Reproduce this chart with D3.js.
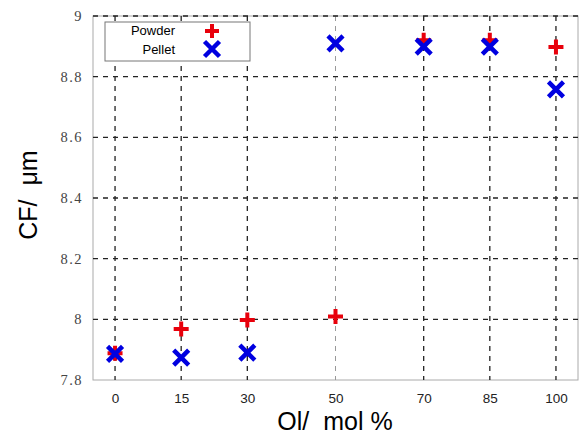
<!DOCTYPE html>
<html>
<head>
<meta charset="utf-8">
<script src="https://d3js.org/d3.v7.min.js"></script>
<style>
  body { margin: 0; background: #fff; }
  svg text { fill: #000; }
</style>
</head>
<body>
<div id="chart"></div>
<script>
// dados
var olMol = [0, 15, 30, 50, 70, 85, 100];
var powder = [7.888, 7.968, 7.998, 8.009, 8.92, 8.92, 8.898];
var pellet = [7.886, 7.874, 7.89, 8.91, 8.899, 8.899, 8.758];
var yTicks = [7.8, 8, 8.2, 8.4, 8.6, 8.8, 9];
var yTickLabels = ["7.8", "8", "8.2", "8.4", "8.6", "8.8", "9"];
var series = ["Powder", "Pellet"];

var largura = 581, altura = 437;
var margin = {top: 16, right: 3, bottom: 57, left: 93};
var w = largura - margin.left - margin.right,
    h = altura - margin.top - margin.bottom;

var svg = d3.select("#chart").append("svg")
  .attr("width", largura).attr("height", altura);
var g = svg.append("g")
  .attr("transform", "translate(" + margin.left + "," + margin.top + ")");

var x = d3.scaleLinear().domain([-5, 105]).range([0, w]);
var y = d3.scaleLinear().domain([7.8, 9]).range([h, 0]);

// moldura
g.append("rect")
  .attr("width", w).attr("height", h)
  .attr("fill", "none").attr("stroke", "#aaa").attr("stroke-width", 1);

// grade
g.selectAll(".gx").data(olMol).enter().append("line")
  .attr("x1", d => x(d)).attr("x2", d => x(d))
  .attr("y1", 0).attr("y2", h)
  .attr("stroke", d => d == 50 ? "#999" : "#222")
  .attr("stroke-width", d => d == 50 ? 1 : 1.3)
  .attr("stroke-dasharray", "5,5");

g.selectAll(".gy").data(yTicks.slice(1)).enter().append("line")
  .attr("x1", 0).attr("x2", w)
  .attr("y1", d => y(d)).attr("y2", d => y(d))
  .attr("stroke", "#222").attr("stroke-width", 1.3)
  .attr("stroke-dasharray", "5,5");

// eixos
var eixoX = g.append("g")
  .attr("transform", "translate(0," + h + ")")
  .call(d3.axisBottom(x).tickValues(olMol).tickSize(0).tickPadding(13));
eixoX.select(".domain").remove();
eixoX.selectAll("text")
  .style("font-family", "'Liberation Sans', Arial, sans-serif")
  .style("font-size", "13.5px").style("fill", "#222");

var eixoY = g.append("g")
  .call(d3.axisLeft(y).tickValues(yTicks).tickSize(0).tickPadding(10)
    .tickFormat((d, i) => yTickLabels[i]));
eixoY.select(".domain").remove();
eixoY.selectAll("text")
  .style("font-family", "'Liberation Serif', serif")
  .style("font-size", "14.5px")
  .style("letter-spacing", "1.5px")
  .style("fill", "#444");

// marcadores
function mais(sel, cx, cy, r, cor, sw) {
  sel.append("path")
    .attr("d", "M" + (cx - r) + "," + cy + "H" + (cx + r) + "M" + cx + "," + (cy - r) + "V" + (cy + r))
    .attr("stroke", cor).attr("stroke-width", sw).attr("fill", "none");
}
function xis(sel, cx, cy, r, cor, sw) {
  sel.append("path")
    .attr("d", "M" + (cx - r) + "," + (cy - r) + "L" + (cx + r) + "," + (cy + r) +
               "M" + (cx - r) + "," + (cy + r) + "L" + (cx + r) + "," + (cy - r))
    .attr("stroke", cor).attr("stroke-width", sw).attr("fill", "none");
}

var pontos = g.append("g");
olMol.forEach((d, i) => mais(pontos, x(d), y(powder[i]), 7.5, "#e8000b", 4));
olMol.forEach((d, i) => xis(pontos, x(d), y(pellet[i]), 7.5, "#0000e0", 4.5));

// legenda
var leg = g.append("g").attr("transform", "translate(" + (105 - margin.left) + "," + (22 - margin.top) + ")");
leg.append("rect")
  .attr("width", 145).attr("height", 39)
  .attr("fill", "#fff").attr("stroke", "#777").attr("stroke-width", 1);
leg.selectAll("text").data(series).enter().append("text")
  .attr("x", 70).attr("y", (d, i) => 13 + i * 19)
  .attr("text-anchor", "end")
  .style("font-family", "'Liberation Sans', Arial, sans-serif")
  .style("font-size", "13px")
  .text(d => d);
mais(leg, 107, 9, 7, "#e8000b", 4);
xis(leg, 107, 27, 7.5, "#0000e0", 4.5);

// títulos
svg.append("text")
  .attr("x", 335).attr("y", 430)
  .attr("text-anchor", "middle")
  .style("font-family", "'Liberation Sans', Arial, sans-serif")
  .style("font-size", "25px")
  .style("white-space", "pre")
  .text("Ol/  mol %");

svg.append("text")
  .attr("transform", "translate(37,195) rotate(-90)")
  .attr("text-anchor", "middle")
  .style("font-family", "'Liberation Sans', Arial, sans-serif")
  .style("font-size", "25px")
  .style("white-space", "pre")
  .text("CF/  μm");
</script>
</body>
</html>
